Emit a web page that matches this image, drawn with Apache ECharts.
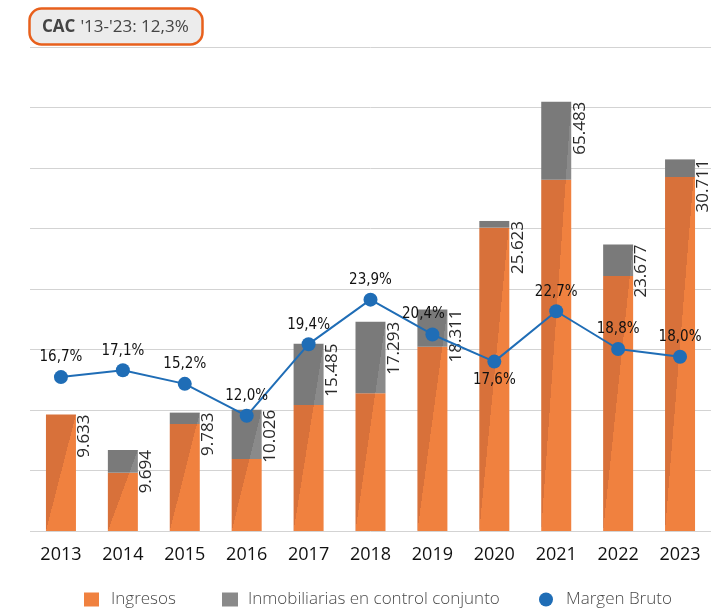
<!DOCTYPE html>
<html><head><meta charset="utf-8">
<script src="https://cdn.jsdelivr.net/npm/echarts@6/dist/echarts.min.js"></script>
<style>html,body{margin:0;padding:0;background:#fff}#c{width:711px;height:608px}</style>
</head><body><div id="c"></div>
<script>
const years = ['2013','2014','2015','2016','2017','2018','2019','2020','2021','2022','2023'];
const ingresos = [9633, 4818, 8843, 5950, 10413, 11380, 15234, 25069, 29036, 21074, 29256];
const inmobiliarias = [0, 1876, 940, 4076, 5072, 5913, 3077, 554, 6447, 2603, 1455];
const totalLabels = ['9.633','9.694','9.783','10.026','15.485','17.293','18.311','25.623','65.483','23.677','30.711'];
const margen = [15.9, 16.6, 15.2, 11.9, 19.3, 23.9, 20.3, 17.5, 22.7, 18.8, 18.0];
const margenLabels = ['16,7%','17,1%','15,2%','12,0%','19,4%','23,9%','20,4%','17,6%','22,7%','18,8%','18,0%'];

const ORANGE_L = '#F0813F', ORANGE_D = '#D8713A';
const GRAY_L = '#8A8A8A', GRAY_D = '#7A7A7A';
const BLUE = '#1F6DB6';

const chart = echarts.init(document.getElementById('c'), null, {renderer: 'canvas'});

const legendText = {fontFamily: 'Open Sans', fontWeight: 300, fontSize: 17, color: '#4a4a4a'};

const option = {
  animation: false,
  backgroundColor: '#fff',
  title: {
    text: '{b|CAC} {n|\'13-\'23: 12,3%}',
    left: 29, top: 7,
    padding: [10, 14, 9, 13],
    backgroundColor: '#ECECEC',
    borderColor: '#E8601C',
    borderWidth: 2.5,
    borderRadius: 12,
    textStyle: {
      rich: {
        b: {fontFamily: 'Open Sans', fontWeight: 'bold', fontSize: 17, color: '#444', lineHeight: 20},
        n: {fontFamily: 'Open Sans', fontWeight: 'normal', fontSize: 17, color: '#444', lineHeight: 20}
      }
    }
  },
  legend: [
    {data: ['Ingresos'], left: 79, top: 586, icon: 'rect', itemWidth: 15, itemHeight: 14,
     textStyle: Object.assign({padding: [0,0,0,7]}, legendText)},
    {data: ['Inmobiliarias en control conjunto'], left: 217, top: 586, icon: 'rect', itemWidth: 16, itemHeight: 14,
     textStyle: Object.assign({padding: [0,0,0,5]}, legendText)},
    {data: ['Margen Bruto'], left: 534, top: 586, icon: 'circle', itemWidth: 14, itemHeight: 14,
     textStyle: Object.assign({padding: [0,0,0,8]}, legendText)}
  ],
  grid: {left: 30, right: -1, top: 47, bottom: 77, containLabel: false},
  xAxis: {
    type: 'category', data: years,
    axisTick: {show: false}, axisLine: {show: false},
    axisLabel: {fontFamily: 'Open Sans', fontSize: 18, color: '#111', margin: 15}
  },
  yAxis: [
    {type: 'value', min: 0, max: 40000, interval: 5000,
     axisLabel: {show: false}, axisLine: {show: false}, axisTick: {show: false},
     splitLine: {lineStyle: {color: '#D3D3D3', width: 1}}},
    {type: 'value', min: 0, max: 50, show: false, splitLine: {show: false}}
  ],
  series: [
    {name: 'Ingresos', type: 'bar', stack: 't', barWidth: 30, data: ingresos,
     itemStyle: {color: ORANGE_L}},
    {name: 'Inmobiliarias en control conjunto', type: 'bar', stack: 't', barWidth: 30, data: inmobiliarias,
     itemStyle: {color: GRAY_L},
     label: {show: true, position: ['100%', 0], rotate: 90, align: 'right', verticalAlign: 'top',
       fontFamily: 'Open Sans', fontWeight: 'normal', fontSize: 17, color: '#2a2a2a',
       formatter: p => totalLabels[p.dataIndex]}},
    {name: 'Margen Bruto', type: 'line', yAxisIndex: 1, data: margen.map((v, i) => {
        const d = {value: v};
        if (i === 7) d.label = {position: 'bottom', distance: 4};
        if (i === 6) d.label = {offset: [-9, -1]};
        return d;
      }),
     symbol: 'circle', symbolSize: 14, z: 5,
     itemStyle: {color: BLUE}, lineStyle: {color: BLUE, width: 2},
     label: {show: true, position: 'top', distance: 5,
       fontFamily: '"Liberation Sans Narrow", "DejaVu Sans Condensed", sans-serif', fontSize: 15, color: '#111',
       formatter: p => margenLabels[p.dataIndex]}}
  ]
};
chart.setOption(option);

function grad(i, dark, light) {
  const total = ingresos[i] + inmobiliarias[i];
  const p0 = chart.convertToPixel({gridIndex: 0}, [i, 0]);
  const p1 = chart.convertToPixel({gridIndex: 0}, [i, total]);
  const w = 30, h = p0[1] - p1[1];
  const mx = p0[0], my = (p0[1] + p1[1]) / 2;
  const len = Math.sqrt(h * h + w * w);
  const nx = h / len, ny = w / len, L = 20;
  return new echarts.graphic.LinearGradient(mx - nx * L, my - ny * L, mx + nx * L, my + ny * L, [
    {offset: 0, color: dark}, {offset: 0.5, color: dark},
    {offset: 0.5, color: light}, {offset: 1, color: light}
  ], true);
}
chart.setOption({series: [
  {data: ingresos.map((v, i) => ({value: v, itemStyle: {color: grad(i, ORANGE_D, ORANGE_L)}}))},
  {data: inmobiliarias.map((v, i) => ({value: v, itemStyle: {color: grad(i, GRAY_D, GRAY_L)}}))}
]});
</script></body></html>
